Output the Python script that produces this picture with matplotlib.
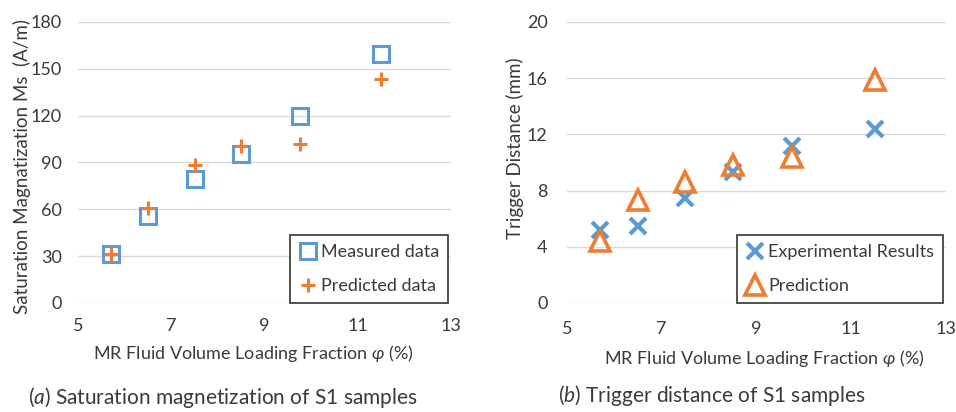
import matplotlib
matplotlib.use("Agg")
import matplotlib.pyplot as plt

plt.rcParams['font.family'] = ['Lato', 'DejaVu Sans']
plt.rcParams['mathtext.fontset'] = 'custom'
plt.rcParams['mathtext.rm'] = 'Lato'
plt.rcParams['mathtext.it'] = 'Lato:italic'

BLUE = '#5B9BD5'
ORANGE = '#ED7D31'
TEXT = '#3a3a3a'

# volume loading fraction (%)
fraction = [5.7, 6.5, 7.5, 8.5, 9.75, 11.5]

# (a) saturation magnetization
measured = [31.6, 56, 79.6, 95.7, 119.6, 159.7]
predicted = [31.6, 60.9, 88.2, 100.4, 102, 143.7]

# (b) trigger distance
experimental = [5.2, 5.5, 7.5, 9.3, 11.2, 12.4]
prediction = [4.4, 7.3, 8.6, 9.8, 10.4, 15.85]

xticks = [5, 7, 9, 11, 13]
yticks_a = [0, 30, 60, 90, 120, 150, 180]
yticks_b = [0, 4, 8, 12, 16, 20]

fig = plt.figure(figsize=(9.56, 4.12), dpi=100)
ax1 = fig.add_axes([0.0816, 0.2646, 0.3904, 0.6824])
ax2 = fig.add_axes([0.593, 0.2646, 0.3965, 0.6824])


def style_axes(ax, yticks, ypad, xpad):
    ax.set_xlim(5, 13)
    ax.set_ylim(yticks[0], yticks[-1])
    ax.set_xticks(xticks)
    ax.set_yticks(yticks)
    for s in ax.spines.values():
        s.set_visible(False)
    ax.tick_params(length=0, labelsize=13, labelcolor=TEXT)
    ax.tick_params(axis='y', pad=ypad)
    ax.tick_params(axis='x', pad=xpad)
    ax.grid(True, axis='y', color='#d9d9d9', linewidth=1)
    ax.set_axisbelow(True)


def add_legend(ax):
    lg = ax.legend(loc='lower right', bbox_to_anchor=(0.992, 0.0), fontsize=13,
                   fancybox=False, framealpha=1, edgecolor='#333333',
                   borderaxespad=0.0, handletextpad=0.2, handlelength=1.0,
                   labelspacing=1.0, borderpad=0.5, labelcolor=TEXT)
    lg.get_frame().set_linewidth(1.2)
    return lg


# (a)
style_axes(ax1, yticks_a, ypad=11.5, xpad=11)
ax1.plot(fraction, measured, linestyle='none', marker='s', markersize=12,
         markerfacecolor='none', markeredgecolor=BLUE, markeredgewidth=2.2,
         label='Measured data')
ax1.plot(fraction, predicted, linestyle='none', marker='+', markersize=10,
         markeredgecolor=ORANGE, markeredgewidth=2.2, label='Predicted data')
ax1.set_ylabel('Saturation Magnatization Ms  (A/m)', fontsize=13.5, color=TEXT)
ax1.yaxis.set_label_coords(-0.126, 0.487)
ax1.set_xlabel(r'MR Fluid Volume Loading Fraction $\varphi$ (%)', fontsize=13, color=TEXT)
ax1.xaxis.set_label_coords(0.469, -0.142)
add_legend(ax1)

# (b)
style_axes(ax2, yticks_b, ypad=14, xpad=13)
ax2.plot(fraction, experimental, linestyle='none', marker='x', markersize=11,
         markeredgecolor=BLUE, markeredgewidth=3, label='Experimental Results')
ax2.plot(fraction, prediction, linestyle='none', marker='^', markersize=14,
         markerfacecolor='none', markeredgecolor=ORANGE, markeredgewidth=2.6,
         label='Prediction')
ax2.set_ylabel('Trigger Distance (mm)', fontsize=13.5, color=TEXT)
ax2.yaxis.set_label_coords(-0.113, 0.552)
ax2.set_xlabel(r'MR Fluid Volume Loading Fraction $\varphi$ (%)', fontsize=13, color=TEXT)
ax2.xaxis.set_label_coords(0.522, -0.160)
add_legend(ax2)

fig.text(0.029, 0.036, r'($\mathit{a}$) Saturation magnetization of S1 samples',
         fontsize=15, color=TEXT, va='center')
fig.text(0.584, 0.041, r'($\mathit{b}$) Trigger distance of S1 samples',
         fontsize=15, color=TEXT, va='center')

fig.savefig('out.png', dpi=100)
